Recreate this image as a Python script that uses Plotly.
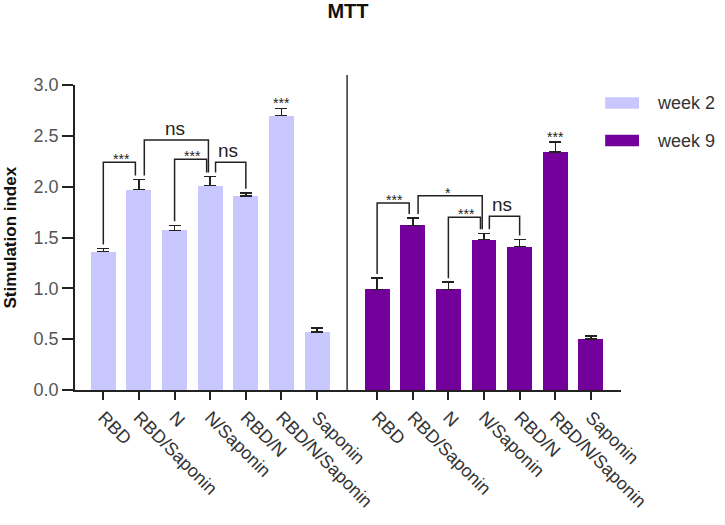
import numpy as np
import plotly.graph_objects as go

# groups and values
groups = ['RBD', 'RBD/Saponin', 'N', 'N/Saponin', 'RBD/N', 'RBD/N/Saponin', 'Saponin']

week2_mean = [1.36, 1.97, 1.57, 2.01, 1.91, 2.70, 0.57]
week2_err = [0.03, 0.10, 0.05, 0.09, 0.03, 0.07, 0.04]

week9_mean = [0.99, 1.62, 0.99, 1.48, 1.41, 2.34, 0.50]
week9_err = [0.11, 0.07, 0.07, 0.06, 0.07, 0.10, 0.03]

# pairwise comparisons: (first bar, second bar, label, bracket height)
week2_pairs = [(0, 1, '***', 2.24), (1, 3, 'ns', 2.46), (2, 3, '***', 2.27), (3, 4, 'ns', 2.24)]
week9_pairs = [(0, 1, '***', 1.84), (1, 3, '*', 1.91), (2, 3, '***', 1.70), (3, 4, 'ns', 1.71)]

# single-bar labels: (bar, label)
week2_marks = [(5, '***')]
week9_marks = [(5, '***')]

LIGHT = '#C8C8FF'
DARK = '#73009B'
INK = '#222222'
FONT = 'Arial, Liberation Sans, sans-serif'

GAP = 0.685
x_left = np.arange(len(groups)).astype(float)
x_right = x_left + len(groups) + GAP

fig = go.Figure()


def add_group(x, mean, err, color, name):
    fig.add_trace(go.Bar(
        x=x, y=mean, width=0.7, name=name,
        marker=dict(color=color, line=dict(width=0)),
        error_y=dict(type='data', array=err, arrayminus=[0] * len(err),
                     symmetric=False, color=INK, thickness=1.5, width=6),
        showlegend=False,
    ))


def add_brackets(x, mean, err, pairs, marks):
    starts = {p[0] for p in pairs}
    ends = {p[1] for p in pairs}
    for i, j, label, h in pairs:
        # nudge legs apart where brackets meet on the same bar
        xi = x[i] + (0.15 if i in ends else 0.0)
        xj = x[j] - (0.1 / (j - i) if j in starts else 0.0)
        yi = mean[i] + err[i] + 0.04
        yj = mean[j] + err[j] + 0.04
        fig.add_trace(go.Scatter(
            x=[xi, xi, xj, xj], y=[yi, h, h, yj], mode='lines',
            line=dict(color=INK, width=1.5), showlegend=False,
            hoverinfo='skip', cliponaxis=False,
        ))
        star = label.startswith('*')
        fig.add_annotation(
            x=(x[i] + x[j]) / 2, y=h, text=label, showarrow=False,
            yanchor='bottom', yshift=-7 if star else -1,
            font=dict(family=FONT, size=14 if star else 19, color=INK),
        )
    for k, label in marks:
        fig.add_annotation(
            x=x[k], y=mean[k] + err[k], text=label, showarrow=False,
            yanchor='bottom', yshift=-5,
            font=dict(family=FONT, size=14, color=INK),
        )


add_group(x_left, week2_mean, week2_err, LIGHT, 'week 2')
add_group(x_right, week9_mean, week9_err, DARK, 'week 9')
add_brackets(x_left, week2_mean, week2_err, week2_pairs, week2_marks)
add_brackets(x_right, week9_mean, week9_err, week9_pairs, week9_marks)

# divider between the two time points
mid = (x_left[-1] + x_right[0]) / 2
fig.add_shape(type='line', xref='x', yref='paper', x0=mid, x1=mid, y0=0, y1=1.033,
              line=dict(color='#333333', width=1.5))

# legend drawn by hand to get the wide swatches
legend_items = [('week 2', LIGHT, 0.941), ('week 9', DARK, 0.818)]
for text, color, yc in legend_items:
    fig.add_shape(type='rect', xref='paper', yref='paper',
                  x0=0.971, x1=1.033, y0=yc - 0.019, y1=yc + 0.019,
                  fillcolor=color, line=dict(width=0))
    fig.add_annotation(xref='paper', yref='paper', x=1.062, y=yc, text=text,
                       showarrow=False, xanchor='left', yanchor='middle',
                       font=dict(family=FONT, size=18, color='#333333'))

# y axis title
fig.add_annotation(xref='paper', yref='paper', x=-0.119, y=0.5,
                   text='<b>Stimulation index</b>', textangle=-90, showarrow=False,
                   xanchor='center', yanchor='middle',
                   font=dict(family=FONT, size=17, color='#111111'))

ticks_x = list(x_left) + list(x_right)
fig.update_layout(
    width=725, height=525,
    margin=dict(l=75, r=104, t=85, b=135),
    paper_bgcolor='white', plot_bgcolor='white',
    title=dict(text='<b>MTT</b>', x=(75 + 621) / 2 / 725, xanchor='center',
               y=1 - 11 / 525, yanchor='middle',
               font=dict(family=FONT, size=20, color='#111111')),
    bargap=0,
    font=dict(family=FONT),
)
fig.update_xaxes(
    range=[-0.795, 14.53], tickmode='array', tickvals=ticks_x,
    ticktext=groups + groups, tickangle=45,
    ticks='outside', ticklen=8, tickwidth=1.5, tickcolor=INK,
    showline=True, linecolor=INK, linewidth=1.5,
    showgrid=False, zeroline=False,
    tickfont=dict(family=FONT, size=18, color='#333333'),
)
fig.update_yaxes(
    range=[0, 3.0], tickvals=[0, 0.5, 1.0, 1.5, 2.0, 2.5, 3.0],
    ticktext=['0.0', '0.5', '1.0', '1.5', '2.0', '2.5', '3.0'],
    ticks='outside', ticklen=11, tickwidth=1.5, tickcolor=INK,
    showline=True, linecolor=INK, linewidth=1.5,
    showgrid=False, zeroline=False,
    tickfont=dict(family=FONT, size=18, color='#555555'),
)

# drop the default page margin so the 725x525 figure fills the window exactly
fig.write_html("out.html",
               config={'displayModeBar': False},
               post_script="document.body.style.margin='0';"
                           "document.body.style.overflow='hidden';")
